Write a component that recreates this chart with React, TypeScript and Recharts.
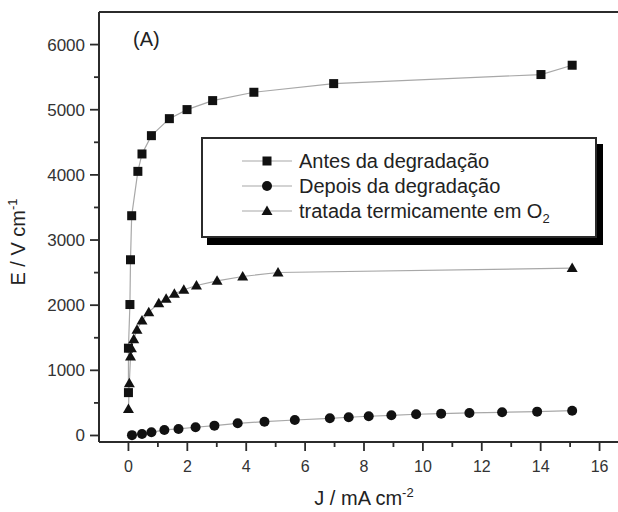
import { LineChart, Line, XAxis, YAxis, Legend, ReferenceLine } from 'recharts'

// J (mA cm-2) and E (V cm-1)
const antesJ = [0, 0, 0.05, 0.07, 0.11, 0.32, 0.46, 0.78, 1.39, 1.99, 2.86, 4.26, 6.97, 14.01, 15.07]
const antesE = [658, 1340, 2010, 2697, 3373, 4054, 4321, 4602, 4863, 5002, 5140, 5268, 5401, 5540, 5683]

const depoisJ = [0.12, 0.46, 0.78, 1.22, 1.7, 2.28, 2.92, 3.71, 4.62, 5.65, 6.84, 7.48, 8.16, 8.93, 9.77, 10.62, 11.58, 12.69, 13.88, 15.07]
const depoisE = [5, 23, 49, 85, 100, 126, 151, 187, 212, 238, 264, 280, 295, 310, 326, 335, 346, 356, 366, 381]

const tratadaJ = [0, 0.03, 0.07, 0.1, 0.18, 0.29, 0.46, 0.69, 1.03, 1.28, 1.56, 1.88, 2.31, 3.01, 3.88, 5.08, 15.07]
const tratadaE = [407, 802, 1211, 1340, 1478, 1621, 1764, 1893, 2031, 2097, 2174, 2236, 2302, 2374, 2440, 2502, 2569]

const xTicks = [0, 1, 2, 3, 4, 5, 6, 7, 8, 9, 10, 11, 12, 13, 14, 15, 16]
const yTicks = [0, 500, 1000, 1500, 2000, 2500, 3000, 3500, 4000, 4500, 5000, 5500, 6000]

const seriesNames = ['Antes da degradação', 'Depois da degradação', 'tratada termicamente em O']

const toPoints = (js: number[], es: number[]) => js.map((j, i) => ({ j, e: es[i] }))

const AXIS = '#2b2b2b'
const LINE = '#a8a8a8'
const MARK = '#111'
const FONT = '"Liberation Sans", Arial, sans-serif'

type Shape = 'square' | 'circle' | 'triangle'

function Marker({ cx, cy, shape }: { cx: number; cy: number; shape: Shape }) {
  if (shape === 'square') return <rect x={cx - 4.5} y={cy - 4.5} width={9} height={9} fill={MARK} />
  if (shape === 'circle') return <circle cx={cx} cy={cy} r={5} fill={MARK} />
  return <polygon points={`${cx},${cy - 5.5} ${cx + 5.5},${cy + 4} ${cx - 5.5},${cy + 4}`} fill={MARK} />
}

const dotFor = (shape: Shape) => (p: any) => <Marker key={p.key ?? p.index} cx={p.cx} cy={p.cy} shape={shape} />

function XTick({ x, y, payload }: any) {
  const v = payload.value
  const major = v % 2 === 0
  return (
    <g>
      <line x1={x} x2={x} y1={y} y2={y + (major ? 9 : 5)} stroke={AXIS} strokeWidth={1.8} />
      {major && (
        <text x={x} y={y + 30} textAnchor="middle" fontSize={16} fill="#333" fontFamily={FONT}>
          {v}
        </text>
      )}
    </g>
  )
}

function YTick({ x, y, payload }: any) {
  const v = payload.value
  const major = v % 1000 === 0
  return (
    <g>
      <line x1={x - (major ? 9 : 5)} x2={x} y1={y} y2={y} stroke={AXIS} strokeWidth={1.8} />
      {major && (
        <text x={x - 14} y={y + 6} textAnchor="end" fontSize={17} fill="#333" fontFamily={FONT}>
          {v}
        </text>
      )}
    </g>
  )
}

function LegendBox() {
  const shapes: Shape[] = ['square', 'circle', 'triangle']
  return (
    <div
      style={{
        width: 392,
        height: 97,
        border: `2px solid ${AXIS}`,
        background: '#fff',
        boxShadow: '6px 7px 0 #000',
      }}
    >
      <svg width={392} height={97} style={{ display: 'block' }}>
        {seriesNames.map((name, i) => {
          const cy = 22 + i * 25
          return (
            <g key={name}>
              <line x1={39} x2={89} y1={cy} y2={cy} stroke={LINE} strokeWidth={1.2} />
              <Marker cx={64} cy={cy} shape={shapes[i]} />
              <text x={96} y={cy + 7} fontSize={20} fill="#222" fontFamily={FONT}>
                {name}
                {i === 2 && (
                  <tspan fontSize={13} dy={5}>
                    2
                  </tspan>
                )}
              </text>
            </g>
          )
        })}
      </svg>
    </div>
  )
}

export default function App() {
  return (
    <div style={{ position: 'fixed', left: 0, top: 0, width: 618, height: 512, overflow: 'hidden', background: '#fff' }}>
      <LineChart width={630} height={512} margin={{ top: 12, right: 1, bottom: 0, left: 0 }}>
        <XAxis
          type="number"
          dataKey="j"
          domain={[-1, 17]}
          ticks={xTicks}
          interval={0}
          tickSize={0}
          tickMargin={0}
          tickLine={false}
          tick={(p: any) => <XTick {...p} />}
          axisLine={{ stroke: AXIS, strokeWidth: 2 }}
          height={70}
          allowDataOverflow
          label={{
            content: (p: any) => {
              const vb = p.viewBox
              return (
                <text x={vb.x + vb.width / 2} y={vb.y + 63} textAnchor="middle" fontSize={20} fill="#222" fontFamily={FONT}>
                  J / mA cm
                  <tspan fontSize={13} dy={-8}>
                    -2
                  </tspan>
                </text>
              )
            },
          }}
        />
        <YAxis
          type="number"
          dataKey="e"
          domain={[-100, 6500]}
          ticks={yTicks}
          interval={0}
          tickSize={0}
          tickMargin={0}
          tickLine={false}
          tick={(p: any) => <YTick {...p} />}
          axisLine={{ stroke: AXIS, strokeWidth: 2 }}
          width={99}
          allowDataOverflow
          label={{
            content: () => (
              <text x={25} y={242} transform="rotate(-90 25 242)" textAnchor="middle" fontSize={20} fill="#222" fontFamily={FONT}>
                E / V cm
                <tspan fontSize={13} dy={-8}>
                  -1
                </tspan>
              </text>
            ),
          }}
        />
        <ReferenceLine y={6500} stroke={AXIS} strokeWidth={2} />
        <text x={133} y={46} fontSize={20} fill="#222" fontFamily={FONT}>
          (A)
        </text>
        <Line
          data={toPoints(antesJ, antesE)}
          dataKey="e"
          name={seriesNames[0]}
          stroke={LINE}
          strokeWidth={1.2}
          dot={dotFor('square')}
          isAnimationActive={false}
        />
        <Line
          data={toPoints(depoisJ, depoisE)}
          dataKey="e"
          name={seriesNames[1]}
          stroke={LINE}
          strokeWidth={1.2}
          dot={dotFor('circle')}
          isAnimationActive={false}
        />
        <Line
          data={toPoints(tratadaJ, tratadaE)}
          dataKey="e"
          name={seriesNames[2]}
          stroke={LINE}
          strokeWidth={1.2}
          dot={dotFor('triangle')}
          isAnimationActive={false}
        />
        <Legend
          layout="vertical"
          align="center"
          verticalAlign="middle"
          content={() => <LegendBox />}
          wrapperStyle={{ left: 201, top: 137, width: 396, height: 101 }}
        />
      </LineChart>
    </div>
  )
}
